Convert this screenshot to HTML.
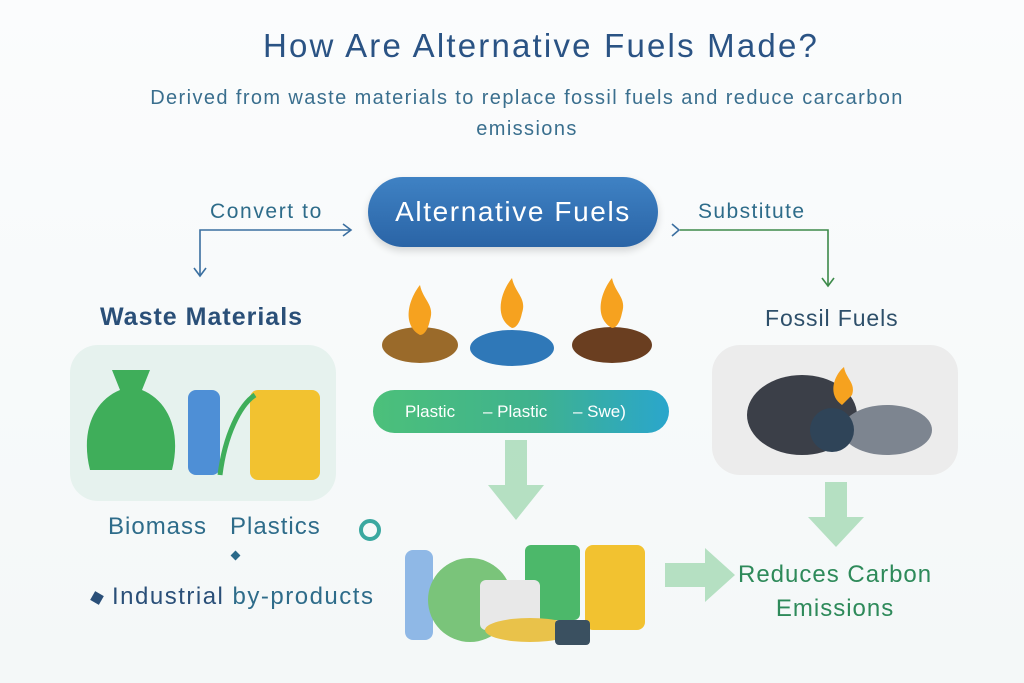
<!DOCTYPE html>
<html><head><meta charset="utf-8"><style>
*{margin:0;padding:0;box-sizing:border-box}
body{width:1024px;height:683px;overflow:hidden;background:linear-gradient(#fbfcfd,#f4f8f8);font-family:"Liberation Sans",sans-serif;position:relative}
.t{position:absolute;white-space:nowrap}
</style></head><body>
<div class="t" style="left:0;width:1082px;text-align:center;top:27px;font-size:33px;letter-spacing:2.2px;color:#2a5384;font-weight:500">How Are Alternative Fuels Made?</div>
<div class="t" style="left:0;width:1054px;text-align:center;top:83px;font-size:20px;letter-spacing:1.4px;color:#3a6f8e;line-height:31px">Derived from waste materials to replace fossil fuels and reduce carcarbon<br>emissions</div>

<div class="t" style="left:368px;top:177px;width:290px;height:70px;border-radius:35px;background:linear-gradient(#3f82c4,#2a64a6);box-shadow:0 4px 8px rgba(0,0,0,.15);color:#fff;font-size:28px;letter-spacing:1.6px;text-align:center;line-height:70px">Alternative Fuels</div>

<div class="t" style="left:210px;top:200px;font-size:21px;letter-spacing:1.6px;color:#2e6c8a">Convert to</div>
<div class="t" style="left:698px;top:200px;font-size:21px;letter-spacing:1.4px;color:#2e6c8a">Substitute</div>

<svg class="t" style="left:0;top:0" width="1024" height="683">
<g fill="none" stroke="#3b6fa0" stroke-width="1.6">
<path d="M200 275 V230 H350"/><path d="M343 224 L351 230 L343 236"/><path d="M194 268 L200 276 L206 268"/>
<path d="M672 224 L679 230 L672 236"/>
<path stroke="#3d8a4a" d="M680 230 H828 V285"/><path stroke="#3d8a4a" d="M822 278 L828 286 L834 278"/>
</g>
<g fill="#a9dcb8" opacity=".85">
<path d="M505 440 h22 v45 h17 l-28 35 l-28 -35 h17z"/>
<path d="M825 482 h22 v35 h17 l-28 30 l-28 -30 h17z"/>
<path d="M665 563 h40 v-15 l30 27 l-30 27 v-15 h-40z"/>
</g>
<g>
<ellipse cx="420" cy="345" rx="38" ry="18" fill="#9a6a2a"/><path d="M420 335 c-18-10-12-35 0-50 c3 15 15 20 10 35 c-2 10-6 15-10 15z" fill="#f6a21f"/>
<ellipse cx="512" cy="348" rx="42" ry="18" fill="#2f78b8"/><path d="M512 328 c-18-10-12-35 0-50 c3 15 15 20 10 35 c-2 10-6 15-10 15z" fill="#f6a21f"/>
<ellipse cx="612" cy="345" rx="40" ry="18" fill="#6a3e20"/><path d="M612 328 c-18-10-12-35 0-50 c3 15 15 20 10 35 c-2 10-6 15-10 15z" fill="#f6a21f"/>
</g>
</svg>

<div class="t" style="left:373px;top:390px;width:296px;height:43px;border-radius:22px;background:linear-gradient(90deg,#4cc07a,#3fb28e 55%,#2aa6cc);color:#fff;font-size:17px;line-height:43px">
<span style="position:absolute;left:32px">Plastic</span><span style="position:absolute;left:110px">– Plastic</span><span style="position:absolute;left:200px">– Swe)</span></div>

<div class="t" style="left:100px;top:303px;font-size:25px;letter-spacing:1px;font-weight:bold;color:#2a4f78">Waste Materials</div>
<div class="t" style="left:70px;top:345px;width:266px;height:156px;border-radius:28px;background:#e6f2ee"></div>
<svg class="t" style="left:70px;top:345px" width="266" height="156">
<path d="M20 125 c-10-40 5-70 30-80 l-8-20 h38 l-8 20 c25 10 40 40 30 80z" fill="#3fae5a"/>
<rect x="118" y="45" width="32" height="85" rx="8" fill="#4e8fd6"/>
<rect x="180" y="45" width="70" height="90" rx="8" fill="#f2c230"/>
<path d="M150 130 c5-40 20-70 35-80" stroke="#3fae5a" stroke-width="5" fill="none"/>
</svg>

<div class="t" style="left:765px;top:305px;font-size:23px;letter-spacing:0.9px;color:#2e4f6a">Fossil Fuels</div>
<div class="t" style="left:712px;top:345px;width:246px;height:130px;border-radius:28px;background:#ececec"></div>
<svg class="t" style="left:712px;top:345px" width="246" height="130">
<ellipse cx="90" cy="70" rx="55" ry="40" fill="#3b3f48"/>
<ellipse cx="175" cy="85" rx="45" ry="25" fill="#7d8590"/>
<circle cx="120" cy="85" r="22" fill="#2f4458"/>
<path d="M130 60 c-15-10-8-30 2-38 c2 12 12 16 8 28z" fill="#f6a21f"/>
</svg>

<div class="t" style="left:108px;top:513px;font-size:24px;letter-spacing:1px;color:#2e6c8a">Biomass&nbsp;&nbsp; Plastics</div>
<div class="t" style="left:232px;top:552px;width:7px;height:7px;background:#2a6a8a;transform:rotate(45deg)"></div>
<div class="t" style="left:92px;top:593px;width:10px;height:10px;background:#2a4f78;transform:rotate(30deg)"></div>
<div class="t" style="left:112px;top:583px;font-size:24px;letter-spacing:1.5px;color:#2e6c8a"><b style="color:#2a4f78;font-weight:500">Industrial</b> by-products</div>

<svg class="t" style="left:340px;top:500px" width="330" height="160">
<rect x="65" y="50" width="28" height="90" rx="8" fill="#8fb8e6"/>
<circle cx="130" cy="100" r="42" fill="#7ac47a"/>
<rect x="185" y="45" width="55" height="75" rx="6" fill="#4cb86a"/>
<rect x="245" y="45" width="60" height="85" rx="8" fill="#f2c230"/>
<rect x="140" y="80" width="60" height="50" rx="6" fill="#e8e8e8"/>
<ellipse cx="190" cy="130" rx="45" ry="12" fill="#e9c24a"/>
<rect x="215" y="120" width="35" height="25" rx="4" fill="#3a5060"/>
<circle cx="30" cy="30" r="9" fill="none" stroke="#3aa8a0" stroke-width="4"/>
</svg>

<div class="t" style="left:738px;top:558px;font-size:24px;letter-spacing:1px;color:#2e8a5a;line-height:34px;text-align:center">Reduces Carbon<br>Emissions</div>
</body></html>
